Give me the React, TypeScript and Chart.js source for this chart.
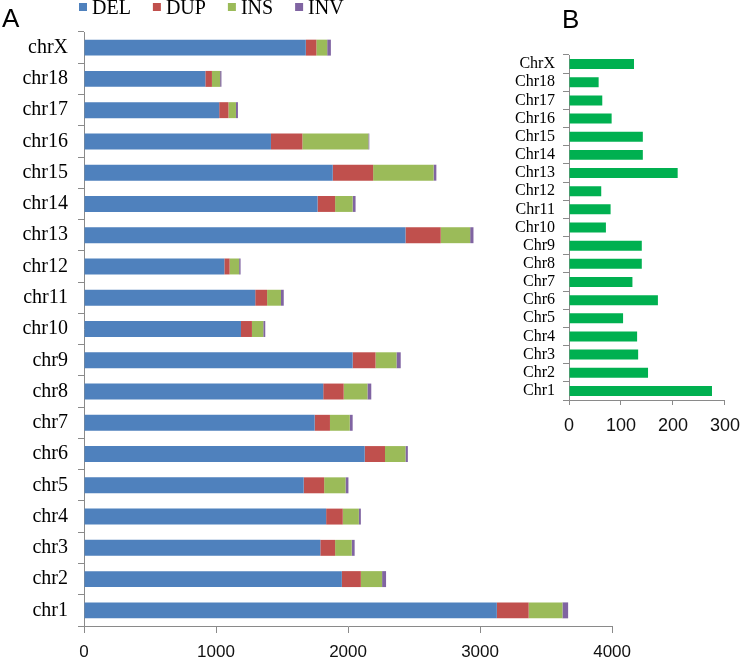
import React, { useEffect, useRef } from "react";
import { Chart, registerables } from "chart.js";

Chart.register(...registerables);

const chromsA = ["chr1","chr2","chr3","chr4","chr5","chr6","chr7","chr8","chr9","chr10","chr11","chr12","chr13","chr14","chr15","chr16","chr17","chr18","chrX"];
const delValues = [3127,1953,1790,1834,1664,2126,1747,1812,2035,1189,1297,1063,2435,1769,1884,1416,1024,919,1680];
const dupValues = [241,144,112,126,155,154,116,155,173,83,90,40,267,133,306,238,70,50,80];
const insValues = [256,161,126,122,162,155,150,180,159,86,105,72,223,133,458,500,57,62,82];
const invValues = [43,30,22,15,22,18,22,29,32,15,21,11,25,22,21,7,15,10,28];
const xTicksA = [0, 1000, 2000, 3000, 4000];

const chromsB = ["Chr1","Chr2","Chr3","Chr4","Chr5","Chr6","Chr7","Chr8","Chr9","Chr10","Chr11","Chr12","Chr13","Chr14","Chr15","Chr16","Chr17","Chr18","ChrX"];
const countsB = [275,152,133,131,104,171,122,140,140,71,80,62,209,142,142,82,64,57,125];
const xTicksB = [0, 100, 200, 300];

const SERIF = "'Liberation Serif', 'Times New Roman', serif";
const SANS = "'Liberation Sans', Arial, sans-serif";
const GREY = "#8a8a8a";

const legendAndLetterA = {
  id: "legendA",
  afterDraw(chart: any) {
    const ctx = chart.ctx;
    ctx.save();
    ctx.fillStyle = "#000";
    ctx.font = `26px ${SANS}`;
    ctx.textBaseline = "alphabetic";
    ctx.textAlign = "left";
    ctx.fillText("A", 2, 27);
    ctx.font = `20px ${SERIF}`;
    let x = chart.chartArea.left - 5;
    chart.data.datasets.forEach((ds: any) => {
      ctx.fillStyle = ds.backgroundColor;
      ctx.fillRect(x, 3, 8, 8);
      x += 13;
      ctx.fillStyle = "#000";
      ctx.fillText(ds.label, x, 14);
      x += ctx.measureText(ds.label).width + 22;
    });
    ctx.restore();
  },
};

const letterB = {
  id: "letterB",
  afterDraw(chart: any) {
    const ctx = chart.ctx;
    ctx.save();
    ctx.fillStyle = "#000";
    ctx.font = `26px ${SANS}`;
    ctx.textBaseline = "alphabetic";
    ctx.textAlign = "left";
    ctx.fillText("B", 82, 28);
    ctx.restore();
  },
};

export default function App() {
  const refA = useRef<HTMLCanvasElement>(null);
  const refB = useRef<HTMLCanvasElement>(null);

  useEffect(() => {
    const chartA = new Chart(refA.current!, {
      type: "bar",
      data: {
        labels: chromsA,
        datasets: [
          { label: "DEL", data: delValues, backgroundColor: "#4F81BD" },
          { label: "DUP", data: dupValues, backgroundColor: "#C0504D" },
          { label: "INS", data: insValues, backgroundColor: "#9BBB59" },
          { label: "INV", data: invValues, backgroundColor: "#8064A2" },
        ],
      },
      options: {
        indexAxis: "y",
        responsive: false,
        animation: false,
        devicePixelRatio: 1,
        layout: { padding: { top: 32, right: 23, left: 0, bottom: 0 } },
        datasets: { bar: { categoryPercentage: 1, barPercentage: 0.51 } },
        plugins: { legend: { display: false }, tooltip: { enabled: false } },
        scales: {
          x: {
            stacked: true,
            min: 0,
            max: 4000,
            afterBuildTicks: (s: any) => { s.ticks = xTicksA.map((v) => ({ value: v })); },
            afterFit: (s: any) => { s.height = 34; },
            grid: { drawOnChartArea: false, drawTicks: true, tickLength: 7, color: GREY },
            border: { display: true, color: GREY },
            ticks: { color: "#111", font: { family: SANS, size: 17 }, padding: 9, callback: (v: any) => String(v) },
          },
          y: {
            stacked: true,
            reverse: true,
            afterFit: (s: any) => { s.width = 84; },
            grid: { drawOnChartArea: false, drawTicks: true, tickLength: 6, color: GREY, offset: true },
            border: { display: true, color: GREY },
            ticks: { color: "#000", font: { family: SERIF, size: 20 }, padding: 10 },
          },
        },
      },
      plugins: [legendAndLetterA],
    });

    const chartB = new Chart(refB.current!, {
      type: "bar",
      data: {
        labels: chromsB,
        datasets: [{ label: "Count", data: countsB, backgroundColor: "#00B050" }],
      },
      options: {
        indexAxis: "y",
        responsive: false,
        animation: false,
        devicePixelRatio: 1,
        layout: { padding: { top: 55, right: 17, left: 0, bottom: 0 } },
        datasets: { bar: { categoryPercentage: 1, barPercentage: 0.55 } },
        plugins: { legend: { display: false }, tooltip: { enabled: false } },
        scales: {
          x: {
            min: 0,
            max: 300,
            afterBuildTicks: (s: any) => { s.ticks = xTicksB.map((v) => ({ value: v })); },
            afterFit: (s: any) => { s.height = 40; },
            grid: { drawOnChartArea: false, drawTicks: true, tickLength: 5, color: GREY },
            border: { display: true, color: GREY },
            ticks: { color: "#111", font: { family: SANS, size: 18 }, padding: 10, callback: (v: any) => String(v) },
          },
          y: {
            reverse: true,
            afterFit: (s: any) => { s.width = 89; },
            grid: { drawOnChartArea: false, drawTicks: true, tickLength: 6, color: GREY, offset: true },
            border: { display: true, color: GREY },
            ticks: { color: "#000", font: { family: SERIF, size: 16 }, padding: 8, autoSkip: false },
          },
        },
      },
      plugins: [letterB],
    });

    return () => {
      chartA.destroy();
      chartB.destroy();
    };
  }, []);

  return (
    <div style={{ position: "fixed", left: 0, top: 0, width: 750, height: 660, background: "#fff", overflow: "hidden" }}>
      <canvas ref={refA} width={640} height={660} style={{ position: "absolute", left: 0, top: 0 }} />
      <canvas ref={refB} width={270} height={440} style={{ position: "absolute", left: 480, top: 0 }} />
    </div>
  );
}
